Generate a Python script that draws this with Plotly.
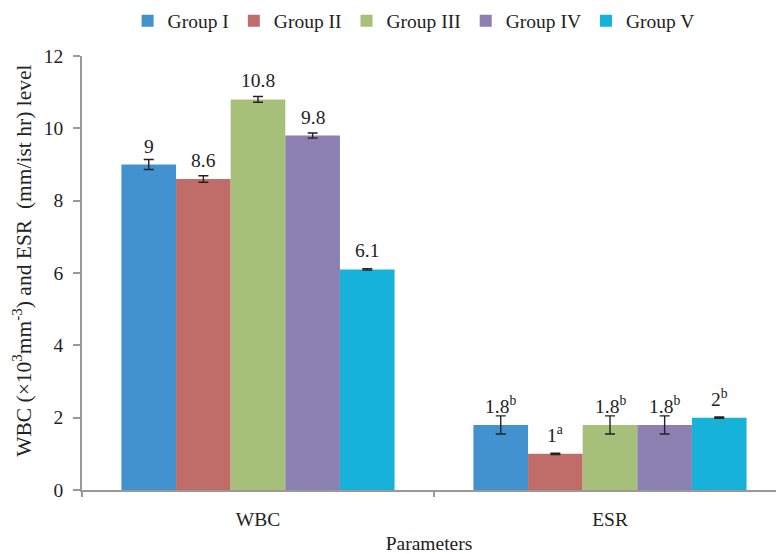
import plotly.graph_objects as go

# Haematological parameters per treatment group
categories = ["WBC", "ESR"]
groups = ["Group I", "Group II", "Group III", "Group IV", "Group V"]
colors = ["#4292CF", "#C06C68", "#A6BF79", "#8A80B1", "#17B2DA"]

values = {
    "Group I":   [9.0, 1.8],
    "Group II":  [8.6, 1.0],
    "Group III": [10.8, 1.8],
    "Group IV":  [9.8, 1.8],
    "Group V":   [6.1, 2.0],
}
errors = {
    "Group I":   [0.14, 0.25],
    "Group II":  [0.09, 0.02],
    "Group III": [0.08, 0.25],
    "Group IV":  [0.07, 0.25],
    "Group V":   [0.02, 0.02],
}
# significance letters shown as superscripts on the ESR labels
sig_letters = {
    "Group I":   ["", "b"],
    "Group II":  ["", "a"],
    "Group III": ["", "b"],
    "Group IV":  ["", "b"],
    "Group V":   ["", "b"],
}

y_title = "WBC (×10<sup>3</sup>mm<sup>-3</sup>) and ESR  (mm/ist hr) level"

FONT = "Liberation Serif"
FS = 19.5
bargap = 0.224
n = len(groups)
bar_w = (1 - bargap) / n

fig = go.Figure()
for g, c in zip(groups, colors):
    fig.add_trace(go.Bar(
        name=g, x=categories, y=values[g], marker=dict(color=c, line=dict(width=0)),
        error_y=dict(type="data", array=errors[g], visible=True,
                     color="#222222", thickness=1.4, width=5),
    ))

# value labels above each bar
annotations = []
for i, g in enumerate(groups):
    offset = (i - (n - 1) / 2) * bar_w
    for j, cat in enumerate(categories):
        v = values[g][j]
        txt = f"{v:g}"
        if sig_letters[g][j]:
            txt += f"<sup>{sig_letters[g][j]}</sup>"
        annotations.append(dict(
            x=j + offset, y=v, xref="x", yref="y", text=txt, showarrow=False,
            yanchor="bottom", yshift=6, font=dict(family=FONT, size=FS, color="#222222"),
        ))

# vertical y-axis title
annotations.append(dict(
    x=-0.085, y=0.528, xref="paper", yref="paper", text=y_title, showarrow=False,
    textangle=-90, xanchor="center", yanchor="middle",
    font=dict(family=FONT, size=21.5, color="#222222"),
))

fig.update_layout(
    width=776, height=554,
    margin=dict(l=82, r=0, t=56, b=64),
    paper_bgcolor="white", plot_bgcolor="white",
    barmode="group", bargap=bargap, bargroupgap=0,
    font=dict(family=FONT, size=FS, color="#222222"),
    annotations=annotations,
    legend=dict(
        orientation="h", xref="container", yref="container",
        x=0.533, xanchor="center", y=0.962, yanchor="middle",
        font=dict(family=FONT, size=FS), itemsizing="constant",
    ),
    xaxis=dict(
        type="category", range=[-0.5, 1.4716],
        showline=True, linecolor="#999999", linewidth=1.5,
        ticks="outside", tickson="boundaries", ticklen=5, tickcolor="#999999", tickwidth=1.5,
        ticklabelstandoff=11, showgrid=False,
        title=dict(text="Parameters", standoff=10, font=dict(family=FONT, size=FS)),
    ),
    yaxis=dict(
        range=[0, 12], dtick=2, showline=True, linecolor="#999999", linewidth=1.5,
        ticks="outside", ticklen=7, tickcolor="#999999", tickwidth=1.5,
        ticklabelstandoff=6, showgrid=False, zeroline=False,
    ),
)

fig.write_html("out.html")
